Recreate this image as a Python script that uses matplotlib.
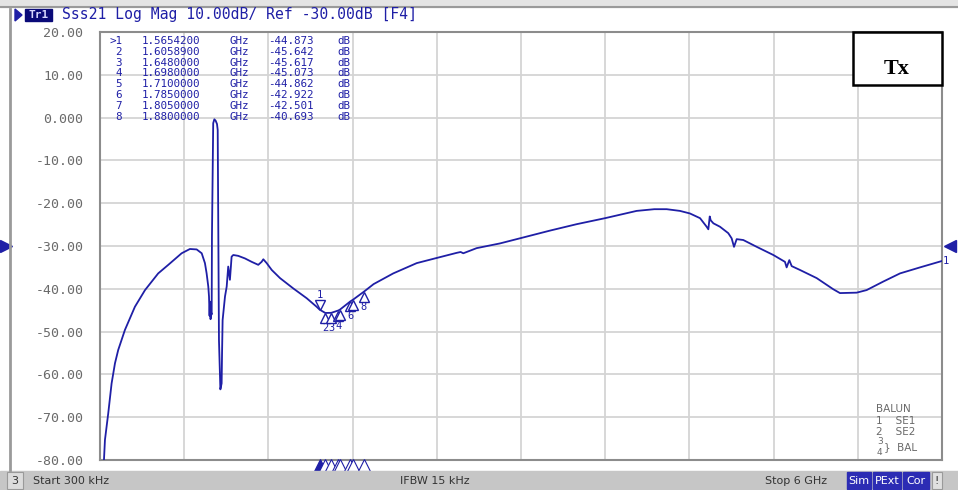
import numpy as np
import matplotlib
matplotlib.use("Agg")
import matplotlib.pyplot as plt
from matplotlib.patches import Rectangle, Polygon
from matplotlib.transforms import offset_copy

# ---------------------------------------------------------------------------
# trace data (Sss21, GHz / dB)
freq_ghz = [0.0003, 0.02, 0.0285, 0.0356, 0.059, 0.083, 0.107, 0.130, 0.178, 0.249,
            0.321, 0.415, 0.487, 0.582, 0.641, 0.689, 0.725, 0.748, 0.760, 0.772,
            0.777, 0.781, 0.784, 0.788, 0.792, 0.796, 0.798, 0.807, 0.815, 0.824,
            0.834, 0.839, 0.848, 0.858, 0.867, 0.870, 0.874, 0.891, 0.903, 0.914,
            0.926, 0.933, 0.938, 0.950, 0.985, 1.033, 1.081, 1.128, 1.152, 1.164,
            1.188, 1.224, 1.283, 1.377, 1.473, 1.544,
            1.5654, 1.60589, 1.648, 1.698, 1.71, 1.785, 1.805, 1.88,
            1.95, 2.090, 2.257, 2.387, 2.542, 2.570, 2.589, 2.684, 2.850, 3.005,
            3.207, 3.397, 3.599, 3.824, 3.95, 4.038, 4.133, 4.204, 4.276, 4.323,
            4.335, 4.345, 4.352, 4.371, 4.418, 4.477, 4.501, 4.518, 4.537, 4.584,
            4.680, 4.798, 4.881, 4.893, 4.912, 4.929, 4.988, 5.107, 5.225, 5.273,
            5.392, 5.463, 5.582, 5.701, 5.843, 6.0]
s21_db = [-95.0, -82.0, -80.0, -75.3, -69.1, -62.1, -57.4, -54.3, -49.6, -44.2,
          -40.3, -36.4, -34.4, -31.7, -30.7, -30.8, -31.7, -34.0, -36.4, -39.5,
          -41.8, -46.3, -43.0, -47.1, -45.5, -46.0, -27.8, -1.3, -0.4, -0.7,
          -1.5, -2.9, -52.0, -63.5, -62.1, -55.0, -47.3, -41.8, -39.5, -34.8,
          -37.9, -34.8, -32.5, -32.1, -32.3, -32.9, -33.7, -34.4, -33.7, -33.1,
          -34.0, -35.6, -37.5, -39.9, -42.2, -44.2,
          -44.873, -45.642, -45.617, -45.073, -44.862, -42.922, -42.501, -40.693,
          -38.9, -36.4, -34.0, -32.9, -31.6, -31.4, -31.7, -30.5, -29.4, -28.1,
          -26.4, -24.9, -23.5, -21.8, -21.4, -21.4, -21.8, -22.4, -23.5, -25.5,
          -26.1, -23.1, -24.0, -24.7, -25.5, -27.0, -28.2, -30.2, -28.4, -28.6,
          -30.2, -32.1, -33.7, -35.0, -33.3, -34.7, -35.6, -37.5, -40.1, -41.0,
          -40.9, -40.3, -38.3, -36.4, -35.0, -33.5]

marker_ids = ["1", "2", "3", "4", "5", "6", "7", "8"]
marker_freq = [1.5654200, 1.6058900, 1.6480000, 1.6980000, 1.7100000, 1.7850000, 1.8050000, 1.8800000]
marker_db = [-44.873, -45.642, -45.617, -45.073, -44.862, -42.922, -42.501, -40.693]
# labels 5 and 7 are hidden under their neighbours on the screen
marker_label_shown = [True, True, True, True, False, True, False, True]

y_ticks = [20, 10, 0, -10, -20, -30, -40, -50, -60, -70, -80]
y_tick_labels = ["20.00", "10.00", "0.000", "-10.00", "-20.00", "-30.00",
                 "-40.00", "-50.00", "-60.00", "-70.00", "-80.00"]
f_start, f_stop = 0.0003, 6.0
ref_level = -30.0

title_text = "Sss21 Log Mag 10.00dB/ Ref -30.00dB [F4]"
balun_lines = ["BALUN", "1    SE1", "2    SE2"]

# ---------------------------------------------------------------------------
W, H = 958, 490
blue = "#1f1fa6"
grey_txt = "#6a6a6a"
mono = "DejaVu Sans Mono"


def px(x, y):
    return x / W, 1 - y / H


fig = plt.figure(figsize=(W / 100, H / 100), dpi=100)
fig.patch.set_facecolor("white")

# frame of the instrument window
fig.patches.append(Rectangle(px(0, 7), 1, 7 / H, transform=fig.transFigure, color="#e4e4e4", zorder=0))
fig.lines.append(plt.Line2D([0, 1], [1 - 7.5 / H] * 2, transform=fig.transFigure, color="#9a9a9a", lw=1.5))
fig.lines.append(plt.Line2D([10 / W] * 2, [1 - 470 / H, 1 - 9 / H], transform=fig.transFigure, color="#9a9a9a", lw=2))

ax = fig.add_axes([100 / W, 30 / H, 842 / W, 428 / H])
ax.plot(freq_ghz, s21_db, color=blue, lw=1.3, zorder=3)

ax.set_xlim(f_start, f_stop)
ax.set_ylim(-80, 20)
ax.set_xticks(np.linspace(f_start, f_stop, 11))
ax.set_yticks(y_ticks)
ax.set_yticklabels(y_tick_labels, family=mono, fontsize=9.5, color=grey_txt)
ax.tick_params(axis="x", labelbottom=False, length=0)
ax.tick_params(axis="y", length=0, pad=12)
ax.grid(True, color="#d4d4d4", lw=1.3)
ax.set_axisbelow(True)
for s in ax.spines.values():
    s.set_color("#8c8c8c")
    s.set_linewidth(1.5)

# markers on the trace
for i, (mid, mf, md) in enumerate(zip(marker_ids, marker_freq, marker_db)):
    if i == 0:
        tr = offset_copy(ax.transData, fig=fig, x=0, y=5, units="dots")
        ax.plot(mf, md, marker="v", ms=7, mfc="white", mec=blue, mew=1, transform=tr, zorder=4)
        ax.text(mf, md, mid, transform=offset_copy(ax.transData, fig=fig, x=0, y=10, units="dots"),
                ha="center", va="bottom", fontsize=7.5, family=mono, color=blue, zorder=4)
    else:
        tr = offset_copy(ax.transData, fig=fig, x=0, y=-5, units="dots")
        ax.plot(mf, md, marker="^", ms=7, mfc="white", mec=blue, mew=1, transform=tr, zorder=4)
        if marker_label_shown[i]:
            ax.text(mf, md, mid, transform=offset_copy(ax.transData, fig=fig, x=0, y=-10, units="dots"),
                    ha="center", va="top", fontsize=7.5, family=mono, color=blue, zorder=4)
    # position indicators under the x axis
    tr = offset_copy(ax.transData, fig=fig, x=0, y=-5, units="dots")
    ax.plot(mf, -80, marker="^", ms=8, mfc=blue if i == 0 else "white", mec=blue, mew=0.8,
            transform=tr, clip_on=False, zorder=5)

# reference level arrows
ax.plot(f_start, ref_level, marker=">", ms=8, color=blue, clip_on=False,
        transform=offset_copy(ax.transData, fig=fig, x=-94, y=0, units="dots"))
ax.plot(f_stop, ref_level, marker="<", ms=8, color=blue, clip_on=False,
        transform=offset_copy(ax.transData, fig=fig, x=8, y=0, units="dots"))
ax.text(f_stop, s21_db[-1], "1", transform=offset_copy(ax.transData, fig=fig, x=1, y=0, units="dots"),
        ha="left", va="center", fontsize=7.5, family=mono, color=blue, clip_on=False)

# marker table
tab_fs = 7.8
for i, (mid, mf, md) in enumerate(zip(marker_ids, marker_freq, marker_db)):
    y = 41 + i * 10.8
    lab = ">" + mid if i == 0 else mid
    fig.text(*px(122, y), lab, ha="right", va="center", family=mono, fontsize=tab_fs, color=blue)
    fig.text(*px(142, y), "%.7f" % mf, ha="left", va="center", family=mono, fontsize=tab_fs, color=blue)
    fig.text(*px(229, y), "GHz", ha="left", va="center", family=mono, fontsize=tab_fs, color=blue)
    fig.text(*px(268, y), "%.3f" % md, ha="left", va="center", family=mono, fontsize=tab_fs, color=blue)
    fig.text(*px(337, y), "dB", ha="left", va="center", family=mono, fontsize=tab_fs, color=blue)

# title line
fig.patches.append(Polygon([px(15, 9), px(15, 21), px(22, 15)], closed=True, transform=fig.transFigure, color=blue))
fig.patches.append(Rectangle(px(25, 21), 27 / W, 12 / H, transform=fig.transFigure, color="#0a0a78"))
fig.text(*px(38.5, 15), "Tr1", ha="center", va="center", family=mono, fontsize=8, weight="bold", color="#d8d8ff")
fig.text(*px(62, 15), title_text, ha="left", va="center", family=mono, fontsize=10.6, color=blue)

# Tx box
fig.patches.append(Rectangle(px(853, 85), 89 / W, 53 / H, transform=fig.transFigure,
                             facecolor="white", edgecolor="black", lw=1.8, zorder=5))
fig.text(*px(897, 69), "Tx", ha="center", va="center", family="Liberation Serif", fontsize=16,
         weight="bold", color="black", zorder=6)

# balun legend
for i, t in enumerate(balun_lines):
    fig.text(*px(876, 409 + i * 11.5), t, ha="left", va="center", family="DejaVu Sans", fontsize=7.5, color=grey_txt)
fig.text(*px(877, 441), "3", ha="left", va="center", family="DejaVu Sans", fontsize=6.5, color=grey_txt)
fig.text(*px(877, 452), "4", ha="left", va="center", family="DejaVu Sans", fontsize=6.5, color=grey_txt)
fig.text(*px(884, 447), "}  BAL", ha="left", va="center", family="DejaVu Sans", fontsize=7.5, color=grey_txt)

# status bar
fig.patches.append(Rectangle((0, 0), 1, 19 / H, transform=fig.transFigure, color="#c6c6c6", zorder=0))
fig.patches.append(Rectangle(px(7, 489), 16 / W, 17 / H, transform=fig.transFigure,
                             facecolor="#dcdcdc", edgecolor="#9a9a9a", lw=0.8))
fig.text(*px(15, 481), "3", ha="center", va="center", family="DejaVu Sans", fontsize=8, color="#333333")
fig.text(*px(33, 481), "Start 300 kHz", ha="left", va="center", family="DejaVu Sans", fontsize=8, color="#333333")
fig.text(*px(400, 481), "IFBW 15 kHz", ha="left", va="center", family="DejaVu Sans", fontsize=8, color="#333333")
fig.text(*px(765, 481), "Stop 6 GHz", ha="left", va="center", family="DejaVu Sans", fontsize=8, color="#333333")
for lab, x0, x1 in [("Sim", 847, 871), ("PExt", 873, 901), ("Cor", 903, 929)]:
    fig.patches.append(Rectangle(px(x0, 489), (x1 - x0) / W, 17 / H, transform=fig.transFigure, color="#2c2cb4"))
    fig.text(*px((x0 + x1) / 2, 481), lab, ha="center", va="center", family="DejaVu Sans", fontsize=8, color="white")
fig.patches.append(Rectangle(px(932, 489), 10 / W, 17 / H, transform=fig.transFigure,
                             facecolor="#e0e0e0", edgecolor="#9a9a9a", lw=0.8))
fig.text(*px(937, 481), "!", ha="center", va="center", family="DejaVu Sans", fontsize=8, color="#333333")

plt.savefig("out.png", dpi=100)
